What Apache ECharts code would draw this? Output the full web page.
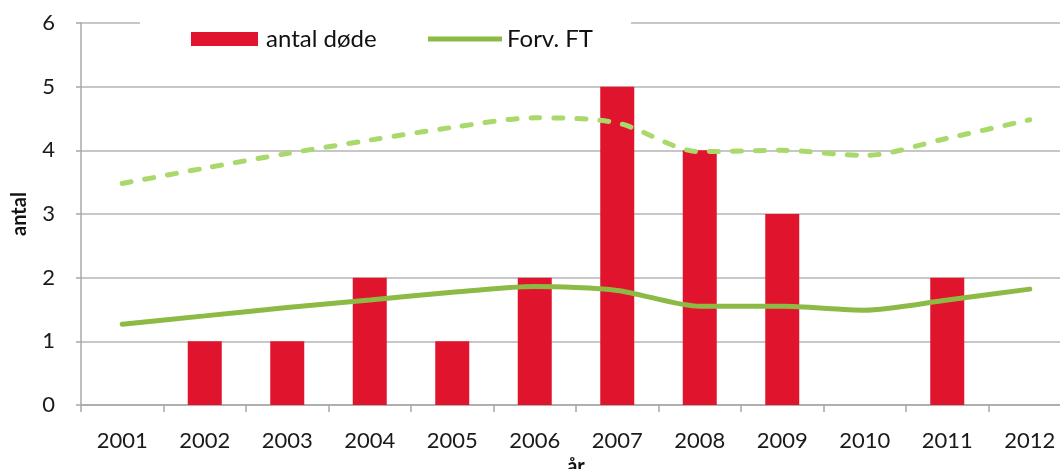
<!DOCTYPE html>
<html>
<head>
<meta charset="utf-8">
<script src="https://cdn.jsdelivr.net/npm/echarts@6/dist/echarts.min.js"></script>
<style>
html,body{margin:0;padding:0;background:#fff;overflow:hidden;}
#c{width:1060px;height:469px;}
</style>
</head>
<body>
<div id="c"></div>
<script>
const categories = ['2001','2002','2003','2004','2005','2006','2007','2008','2009','2010','2011','2012'];
const antalDode = [0, 1, 1, 2, 1, 2, 5, 4, 3, 0, 2, 0];
const forvFT = [1.27, 1.40, 1.53, 1.65, 1.77, 1.86, 1.80, 1.55, 1.55, 1.49, 1.65, 1.82];
const forvFTUpper = [3.48, 3.72, 3.95, 4.16, 4.36, 4.51, 4.43, 3.98, 4.00, 3.92, 4.19, 4.48];
const yTicks = [0, 1, 2, 3, 4, 5, 6];

const FONT = 'Lato, "Open Sans", sans-serif';
const chart = echarts.init(document.getElementById('c'), null, {renderer: 'canvas'});
chart.setOption({
  animation: false,
  backgroundColor: '#ffffff',
  grid: {left: 81, right: -11, top: 23, bottom: 64, containLabel: false, outerBoundsMode: 'none'},
  legend: [
    {
      data: [{name: 'antal døde', icon: 'rect'}],
      left: 140, top: 17,
      padding: [10, 6, 10, 51],
      backgroundColor: '#ffffff',
      itemWidth: 67, itemHeight: 14, itemGap: 0,
      textStyle: {fontFamily: FONT, fontSize: 24, color: '#111', padding: [0, 0, 0, 3]}
    },
    {
      data: [{name: 'Forv. FT', icon: 'rect'}],
      left: 382, top: 17,
      padding: [10, 38, 10, 46],
      backgroundColor: '#ffffff',
      itemWidth: 74, itemHeight: 5, itemGap: 0,
      textStyle: {fontFamily: FONT, fontSize: 24, color: '#111', padding: [0, 0, 0, 0]}
    }
  ],
  xAxis: {
    type: 'category',
    data: categories,
    name: 'år',
    nameLocation: 'middle',
    nameGap: 45,
    nameTextStyle: {fontFamily: FONT, fontSize: 20, fontWeight: 'bold', color: '#111', verticalAlign: 'top'},
    axisLine: {lineStyle: {color: '#a8a8a8', width: 1.5}},
    axisTick: {show: true, length: 7, lineStyle: {color: '#a8a8a8', width: 1.5}},
    axisLabel: {fontFamily: FONT, fontSize: 22, color: '#1a1a1a', margin: 25},
    splitLine: {show: false}
  },
  yAxis: {
    type: 'value',
    min: yTicks[0], max: yTicks[yTicks.length - 1], interval: 1,
    name: 'antal',
    nameLocation: 'middle',
    nameGap: 51,
    nameRotate: 90,
    nameTextStyle: {fontFamily: FONT, fontSize: 20, fontWeight: 'bold', color: '#111'},
    axisLine: {show: true, lineStyle: {color: '#a8a8a8', width: 1.5}},
    axisTick: {show: true, length: 5, lineStyle: {color: '#a8a8a8', width: 1.5}},
    axisLabel: {fontFamily: FONT, fontSize: 22, color: '#1a1a1a', margin: 26},
    splitLine: {show: true, lineStyle: {color: '#b4b4b4', width: 1.5}}
  },
  series: [
    {
      name: 'antal døde',
      type: 'bar',
      data: antalDode,
      barWidth: 34,
      itemStyle: {color: '#e0142c'},
      z: 2
    },
    {
      name: 'Forv. FT',
      type: 'line',
      data: forvFT,
      smooth: 0.25,
      symbol: 'none',
      lineStyle: {color: '#8dba45', width: 5, cap: 'round'},
      itemStyle: {color: '#8dba45'},
      z: 3
    },
    {
      name: 'Forv. FT øvre',
      type: 'line',
      data: forvFTUpper,
      smooth: 0.3,
      symbol: 'none',
      lineStyle: {color: '#a9d86b', width: 5, type: [9, 14], cap: 'round'},
      itemStyle: {color: '#a9d86b'},
      z: 3
    }
  ]
});
</script>
</body>
</html>
